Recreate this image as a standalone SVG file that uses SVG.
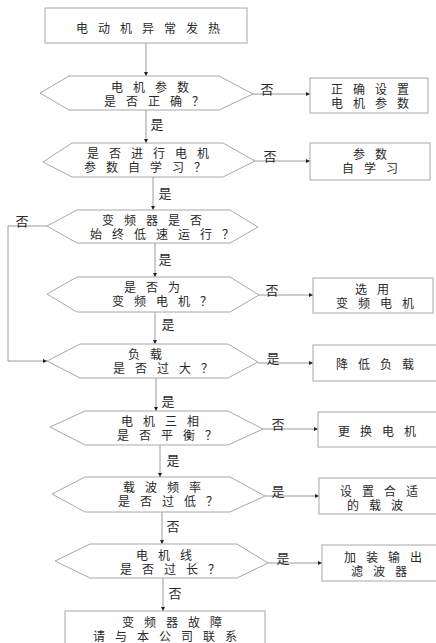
<svg xmlns="http://www.w3.org/2000/svg" width="436" height="643" viewBox="0 0 436 643">
<defs>
<style>
.shape{fill:#ffffff;stroke:#a8a8a8;stroke-width:1}
.t{font-family:"Noto Sans CJK SC","Noto Sans",sans-serif;font-size:12px;fill:#2a2a2a;letter-spacing:10px;text-anchor:middle;dominant-baseline:central}
.lbl{font-family:"Noto Sans CJK SC","Noto Sans",sans-serif;font-size:13px;fill:#2a2a2a;text-anchor:middle;dominant-baseline:central}
.c{fill:none;stroke:#9a9a9a;stroke-width:1;marker-end:url(#ah)}
</style>
<marker id="ah" viewBox="0 0 6 6" refX="6" refY="3" markerWidth="4" markerHeight="4" orient="auto" markerUnits="userSpaceOnUse">
<path d="M0,0 L6,3 L0,6 z" fill="#222"/>
</marker>
</defs>
<rect width="436" height="643" fill="#ffffff"/>

<g id="connectors">
<path class="c" d="M146,43 V76"/>
<path class="c" d="M146,110 V143"/>
<path class="c" d="M153,177 V210"/>
<path class="c" d="M155,243 V277"/>
<path class="c" d="M155,312 V344"/>
<path class="c" d="M156,378 V411"/>
<path class="c" d="M160,445 V477"/>
<path class="c" d="M162,512 V544"/>
<path class="c" d="M163,578 V611"/>
<path class="c" d="M253,94 H310"/>
<path class="c" d="M255,161 H310"/>
<path class="c" d="M259,295 H313"/>
<path class="c" d="M258,363 H313"/>
<path class="c" d="M263,429 H318"/>
<path class="c" d="M265,496 H319"/>
<path class="c" d="M268,563 H322"/>
<path class="c" d="M47,226 H8 V361 H47"/>
<text class="lbl" x="157" y="123">是</text>
<text class="lbl" x="165" y="192">是</text>
<text class="lbl" x="165" y="258">是</text>
<text class="lbl" x="168" y="323">是</text>
<text class="lbl" x="168" y="400">是</text>
<text class="lbl" x="173" y="459">是</text>
<text class="lbl" x="173" y="525">否</text>
<text class="lbl" x="175" y="592">否</text>
<text class="lbl" x="267" y="88">否</text>
<text class="lbl" x="270" y="155">否</text>
<text class="lbl" x="272" y="289">否</text>
<text class="lbl" x="273" y="357">是</text>
<text class="lbl" x="278" y="423">否</text>
<text class="lbl" x="278" y="490">是</text>
<text class="lbl" x="283" y="557">是</text>
<text class="lbl" x="22" y="220">否</text>
</g>

<g id="start">
<rect class="shape" x="45" y="8" width="202" height="35"/>
<text class="t" x="153" y="27">电动机异常发热</text>
</g>

<g id="d1">
<polygon class="shape" points="40,93 69,76 219,76 253,94 219,110 69,110"/>
<text class="t" x="155" y="86.5">电机参数</text>
<text class="t" x="159" y="100.5">是否正确？</text>
</g>
<g id="b1">
<rect class="shape" x="310" y="78" width="118" height="35"/>
<text class="t" x="375" y="88.5">正确设置</text>
<text class="t" x="375" y="102.5">电机参数</text>
</g>

<g id="d2">
<polygon class="shape" points="43,162 72,143 223,143 255,161 223,177 72,177"/>
<text class="t" x="153" y="152.5">是否进行电机</text>
<text class="t" x="150" y="166.5">参数自学习？</text>
</g>
<g id="b2">
<rect class="shape" x="310" y="143" width="120" height="37"/>
<text class="t" x="375" y="153.5">参数</text>
<text class="t" x="375" y="167.5">自学习</text>
</g>

<g id="d3">
<polygon class="shape" points="47,226 77,210 230,210 258,227 230,243 77,243"/>
<text class="t" x="157" y="219">变频器是否</text>
<text class="t" x="167" y="233">始终低速运行？</text>
</g>

<g id="d4">
<polygon class="shape" points="47,294 77,277 230,277 259,295 230,312 77,312"/>
<text class="t" x="157" y="286">是否为</text>
<text class="t" x="167" y="300">变频电机？</text>
</g>
<g id="b4">
<rect class="shape" x="313" y="278" width="120" height="35"/>
<text class="t" x="377" y="288.5">选用</text>
<text class="t" x="380" y="302.5">变频电机</text>
</g>

<g id="d5">
<polygon class="shape" points="47,361 80,344 228,344 258,362 228,378 80,378"/>
<text class="t" x="150" y="353">负载</text>
<text class="t" x="168" y="367">是否过大？</text>
</g>
<g id="b5">
<rect class="shape" x="313" y="345" width="124" height="36"/>
<text class="t" x="380" y="363">降低负载</text>
</g>

<g id="d6">
<polygon class="shape" points="50,427 85,411 228,411 263,429 228,445 85,445"/>
<text class="t" x="165" y="420">电机三相</text>
<text class="t" x="172" y="434">是否平衡？</text>
</g>
<g id="b6">
<rect class="shape" x="318" y="412" width="124" height="35"/>
<text class="t" x="382" y="430">更换电机</text>
</g>

<g id="d7">
<polygon class="shape" points="52,494 85,477 230,477 265,496 230,512 85,512"/>
<text class="t" x="167" y="486">载波频率</text>
<text class="t" x="173" y="500">是否过低？</text>
</g>
<g id="b7">
<rect class="shape" x="319" y="478" width="124" height="36"/>
<text class="t" x="384" y="490">设置合适</text>
<text class="t" x="380" y="504">的载波</text>
</g>

<g id="d8">
<polygon class="shape" points="55,561 90,544 237,544 268,563 237,578 90,578"/>
<text class="t" x="169" y="554">电机线</text>
<text class="t" x="175" y="568">是否过长？</text>
</g>
<g id="b8">
<rect class="shape" x="322" y="545" width="124" height="36"/>
<text class="t" x="388" y="556.5">加装输出</text>
<text class="t" x="384" y="570.5">滤波器</text>
</g>

<g id="end">
<rect class="shape" x="65" y="611" width="200" height="45"/>
<text class="t" x="177" y="621.5">变频器故障</text>
<text class="t" x="170" y="635.5">请与本公司联系</text>
</g>
</svg>
